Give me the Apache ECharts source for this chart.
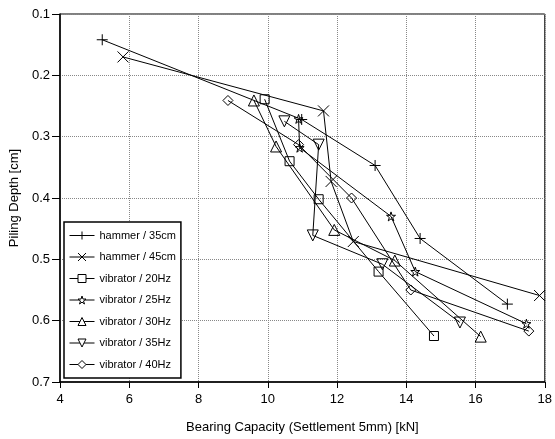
<!DOCTYPE html>
<html>
<head>
<meta charset="utf-8">
<script src="https://cdn.jsdelivr.net/npm/echarts@6/dist/echarts.min.js"></script>
<style>
html,body{margin:0;padding:0;background:#fff;}
#chart{width:555px;height:439px;}
</style>
</head>
<body>
<div id="chart"></div>
<script>
// ---- data ----
var seriesNames = ['hammer / 35cm','hammer / 45cm','vibrator / 20Hz','vibrator / 25Hz','vibrator / 30Hz','vibrator / 35Hz','vibrator / 40Hz'];
var hammer35X = [5.22, 10.98, 13.10, 14.40, 16.92];
var hammer35Y = [0.142, 0.272, 0.347, 0.466, 0.573];
var hammer45X = [5.82, 11.61, 11.83, 12.47, 17.85];
var hammer45Y = [0.170, 0.258, 0.373, 0.471, 0.559];
var vib20X = [9.91, 10.63, 11.47, 13.20, 14.80];
var vib20Y = [0.239, 0.340, 0.402, 0.520, 0.625];
var vib25X = [10.89, 10.92, 13.56, 14.26, 17.47];
var vib25Y = [0.271, 0.318, 0.430, 0.520, 0.605];
var vib30X = [9.60, 10.24, 11.92, 13.67, 16.15];
var vib30Y = [0.241, 0.316, 0.452, 0.502, 0.626];
var vib35X = [10.48, 11.47, 11.30, 13.31, 15.55];
var vib35Y = [0.275, 0.313, 0.461, 0.508, 0.603];
var vib40X = [8.85, 10.89, 12.42, 14.13, 17.54];
var vib40Y = [0.241, 0.313, 0.400, 0.550, 0.617];
var xTicks = [4, 6, 8, 10, 12, 14, 16, 18];
var yTicks = [0.1, 0.2, 0.3, 0.4, 0.5, 0.6, 0.7];

var allX = [hammer35X, hammer45X, vib20X, vib25X, vib30X, vib35X, vib40X];
var allY = [hammer35Y, hammer45Y, vib20Y, vib25Y, vib30Y, vib35Y, vib40Y];

var symbols = [
  'path://M0,5L10,5M5,0L5,10',
  'path://M0,0L10,10M10,0L0,10',
  'rect',
  'path://M5,0L6.2,3.6L10,3.6L6.9,5.9L8.1,9.5L5,7.3L1.9,9.5L3.1,5.9L0,3.6L3.8,3.6Z',
  'path://M5,0L10,9L0,9Z',
  'path://M0,0L10,0L5,9Z',
  'path://M5,0L10,5L5,10L0,5Z'
];
var sizes = [11, 11, 9, 9, 11, 11, 10];

var font = '"Liberation Sans", Arial, sans-serif';

var series = seriesNames.map(function (name, i) {
  return {
    name: name,
    type: 'line',
    data: allX[i].map(function (x, j) { return [x, allY[i][j]]; }),
    symbol: symbols[i],
    symbolSize: sizes[i],
    showAllSymbol: true,
    lineStyle: { color: '#000', width: 1 },
    itemStyle: { color: 'rgba(255,255,255,0)', borderColor: '#000', borderWidth: 1 },
    emphasis: { disabled: true },
    animation: false,
    z: 3
  };
});

var chart = echarts.init(document.getElementById('chart'), null, { renderer: 'canvas' });
chart.setOption({
  animation: false,
  backgroundColor: '#fff',
  textStyle: { fontFamily: font },
  grid: { left: 60, right: 9, top: 14, bottom: 56, show: true, borderColor: '#000', borderWidth: 1, backgroundColor: 'transparent' },
  legend: {
    orient: 'vertical',
    left: 64,
    top: 222,
    padding: [8, 5, 8, 5],
    itemWidth: 25,
    itemHeight: 10,
    itemGap: 10.5,
    borderColor: '#000',
    borderWidth: 1.5,
    backgroundColor: '#fff',
    itemStyle: { color: '#fff', borderColor: '#000', borderWidth: 1 },
    lineStyle: { color: '#000', width: 1 },
    textStyle: { fontFamily: font, fontSize: 11, color: '#000' },
    data: seriesNames
  },
  xAxis: {
    type: 'value',
    min: xTicks[0],
    max: xTicks[xTicks.length - 1],
    interval: 2,
    name: 'Bearing Capacity (Settlement 5mm) [kN]',
    nameLocation: 'middle',
    nameGap: 39,
    nameTextStyle: { fontFamily: font, fontSize: 13, color: '#000' },
    axisLine: { lineStyle: { color: '#000', width: 1.5 } },
    axisTick: { inside: false, length: 6, lineStyle: { color: '#000' } },
    axisLabel: { margin: 11, fontFamily: font, fontSize: 13, color: '#000' },
    splitLine: { show: true, lineStyle: { type: 'dotted', color: '#888', width: 1 } }
  },
  yAxis: {
    type: 'value',
    inverse: true,
    min: yTicks[0],
    max: yTicks[yTicks.length - 1],
    interval: 0.1,
    name: 'Piling Depth [cm]',
    nameLocation: 'middle',
    nameGap: 33,
    nameTextStyle: { fontFamily: font, fontSize: 13, color: '#000' },
    axisLine: { lineStyle: { color: '#000', width: 1.5 } },
    axisTick: { inside: false, length: 8, lineStyle: { color: '#000' } },
    axisLabel: { margin: 10, fontFamily: font, fontSize: 13, color: '#000', formatter: function (v) { return v.toFixed(1); } },
    splitLine: { show: true, lineStyle: { type: 'dotted', color: '#888', width: 1 } }
  },
  series: series
});
</script>
</body>
</html>
